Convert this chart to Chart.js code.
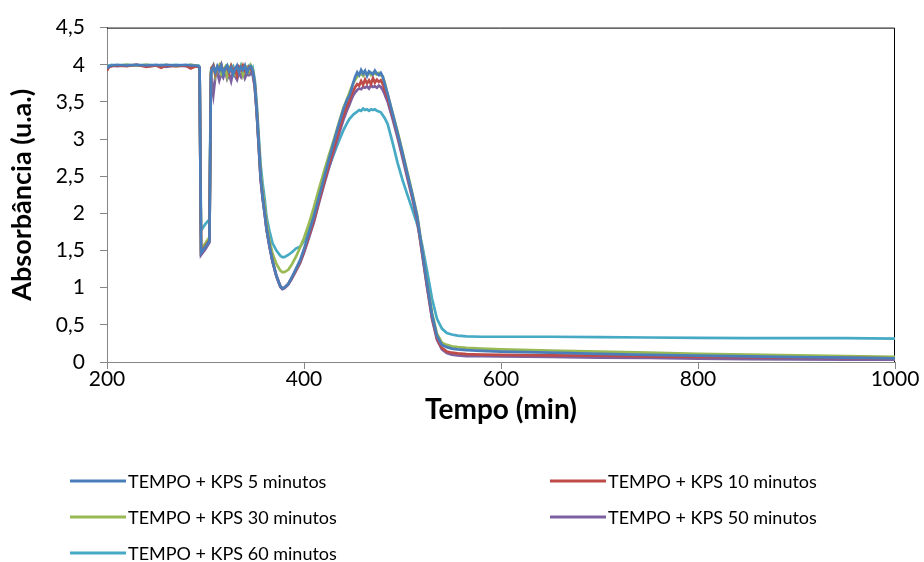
<!DOCTYPE html>
<html>
<head>
<meta charset="utf-8">
<script src="https://cdn.jsdelivr.net/npm/chart.js@4.4.1/dist/chart.umd.min.js"></script>
<style>
  html, body { margin: 0; padding: 0; background: #fff; }
  canvas { display: block; }
</style>
</head>
<body>
<canvas id="absChart" width="924" height="562"></canvas>
<script>
// x values shared by all series
const wavelengths = [
  200, 202, 205, 210, 220, 230, 240, 250, 255, 260, 270, 280, 285, 290, 293,
  294, 295.5, 300, 304, 305.5,
  306, 308, 310, 312, 314, 316, 318, 320, 322, 324, 326, 328, 330, 332, 334, 336, 338, 340, 342, 344, 346, 348,
  350, 352, 354, 356, 358, 360, 362, 365, 368, 372, 376, 378, 380, 384, 388, 392, 396, 400, 405, 410, 415, 420, 425, 430, 435, 440, 444,
  446, 448, 450, 452, 454, 456, 458, 460, 462, 464, 466, 468, 470, 472, 474, 476, 478, 480, 482,
  485, 490, 495, 500, 505, 510, 515, 520, 525, 530, 535, 540, 545, 550, 556, 565, 580, 600, 650, 700, 750, 800, 850, 900, 950, 1000
];

const seriesLabels = [
  'TEMPO + KPS 5 minutos',
  'TEMPO + KPS 10 minutos',
  'TEMPO + KPS 30 minutos',
  'TEMPO + KPS 50 minutos',
  'TEMPO + KPS 60 minutos'
];

const kps5 = [
  3.95, 3.98, 3.99, 4.0, 3.99, 4.0, 3.99, 4.0, 3.99, 4.0, 3.99, 4.0, 3.99, 3.99, 3.98,
  3.96, 1.47, 1.55, 1.63, 3.82,
  3.93, 3.97, 3.90, 3.98, 3.92, 3.99, 3.88, 3.95, 3.99, 3.91, 3.96, 3.87, 3.94, 3.99, 3.90, 3.97, 3.93, 3.99, 3.89, 3.96, 3.98, 3.92,
  3.74, 3.38, 2.93, 2.48, 2.22, 2.01, 1.79, 1.56, 1.36, 1.16, 1.02, 0.99, 1.00, 1.05, 1.15, 1.26, 1.37, 1.52, 1.74, 1.96, 2.21, 2.46, 2.71, 2.95, 3.18, 3.40, 3.54,
  3.58, 3.66, 3.76, 3.84, 3.90, 3.86, 3.93, 3.88, 3.92, 3.85, 3.91, 3.89, 3.87, 3.92, 3.88, 3.86, 3.89, 3.84, 3.74,
  3.6, 3.34, 3.08, 2.81, 2.53, 2.25, 1.95, 1.5, 1.05, 0.63, 0.35, 0.23, 0.2, 0.18, 0.17, 0.16, 0.15, 0.14, 0.125, 0.11, 0.095, 0.085, 0.075, 0.065, 0.06, 0.05
];

const kps10 = [
  3.92, 3.97, 3.98, 3.99, 3.98, 4.0, 3.97, 3.99, 3.96, 3.99, 3.98, 3.99, 3.95, 3.98, 3.97,
  3.96, 1.48, 1.56, 1.64, 3.85,
  3.95, 3.99, 3.88, 3.96, 3.93, 4.00, 3.90, 3.94, 3.97, 3.89, 3.98, 3.91, 3.95, 3.86, 3.97, 3.93, 3.99, 3.92, 3.88, 3.97, 3.95, 3.90,
  3.72, 3.37, 2.92, 2.47, 2.22, 2.01, 1.79, 1.56, 1.36, 1.16, 1.02, 0.99, 1.00, 1.05, 1.14, 1.24, 1.35, 1.49, 1.70, 1.91, 2.16, 2.40, 2.64, 2.87, 3.10, 3.32, 3.46,
  3.52, 3.59, 3.65, 3.70, 3.74, 3.72, 3.78, 3.73, 3.80, 3.75, 3.79, 3.74, 3.82, 3.76, 3.80, 3.77, 3.79, 3.74, 3.66,
  3.55, 3.31, 3.06, 2.79, 2.51, 2.23, 1.92, 1.47, 1.02, 0.6, 0.32, 0.19, 0.14, 0.125, 0.115, 0.105, 0.1, 0.095, 0.09, 0.085, 0.075, 0.07, 0.065, 0.06, 0.055, 0.05
];

const kps30 = [
  3.95, 3.98, 3.99, 3.99, 4.0, 3.99, 4.0, 3.99, 3.99, 4.0, 3.98, 3.99, 4.0, 3.99, 3.98,
  3.96, 1.52, 1.60, 1.68, 3.86,
  3.96, 3.98, 3.85, 3.94, 3.99, 3.88, 3.93, 3.97, 3.84, 3.95, 3.99, 3.90, 3.87, 3.96, 3.92, 3.98, 3.86, 3.94, 3.97, 3.91, 3.99, 3.93,
  3.76, 3.42, 2.98, 2.55, 2.30, 2.10, 1.88, 1.63, 1.46, 1.32, 1.23, 1.21, 1.21, 1.24, 1.32, 1.42, 1.54, 1.67, 1.86, 2.08, 2.32, 2.55, 2.77, 2.98, 3.20, 3.42, 3.55,
  3.62, 3.69, 3.75, 3.80, 3.84, 3.86, 3.88, 3.85, 3.89, 3.87, 3.90, 3.86, 3.89, 3.88, 3.87, 3.89, 3.86, 3.84, 3.76,
  3.6, 3.35, 3.1, 2.83, 2.55, 2.27, 1.97, 1.52, 1.07, 0.66, 0.38, 0.26, 0.23, 0.21, 0.2, 0.19, 0.18, 0.17, 0.155, 0.14, 0.125, 0.11, 0.1, 0.09, 0.08, 0.07
];

const kps50 = [
  3.94, 3.97, 3.99, 3.98, 3.99, 4.0, 3.98, 3.99, 3.99, 3.97, 3.99, 3.98, 3.99, 3.98, 3.97,
  3.96, 1.44, 1.52, 1.61, 3.78,
  3.80, 3.60, 3.84, 3.90, 3.79, 3.88, 3.83, 3.92, 3.81, 3.87, 3.78, 3.91, 3.85, 3.80, 3.89, 3.84, 3.93, 3.82, 3.88, 3.86, 3.90, 3.86,
  3.70, 3.35, 2.90, 2.45, 2.20, 2.00, 1.78, 1.55, 1.35, 1.15, 1.01, 0.98, 0.99, 1.04, 1.13, 1.23, 1.33, 1.47, 1.67, 1.88, 2.13, 2.37, 2.60, 2.82, 3.05, 3.26, 3.40,
  3.46, 3.53, 3.59, 3.63, 3.66, 3.68, 3.67, 3.70, 3.69, 3.71, 3.68, 3.72, 3.70, 3.71, 3.69, 3.72, 3.70, 3.66, 3.60,
  3.5, 3.27, 3.02, 2.75, 2.47, 2.2, 1.9, 1.45, 1.0, 0.58, 0.3, 0.17, 0.12, 0.1, 0.09, 0.08, 0.078, 0.075, 0.07, 0.06, 0.055, 0.045, 0.04, 0.035, 0.03, 0.03
];

const kps60 = [
  3.96, 3.99, 4.0, 3.99, 4.0, 3.99, 4.0, 3.99, 4.0, 3.99, 4.0, 3.99, 4.0, 3.99, 3.99,
  3.97, 1.77, 1.86, 1.92, 3.90,
  3.92, 3.99, 3.89, 3.97, 3.94, 4.00, 3.87, 3.96, 3.99, 3.90, 3.95, 3.98, 3.88, 3.96, 3.92, 3.99, 3.90, 3.97, 3.94, 3.98, 3.89, 3.95,
  3.80, 3.48, 3.05, 2.65, 2.40, 2.20, 1.95, 1.76, 1.60, 1.50, 1.43, 1.41, 1.41, 1.44, 1.48, 1.53, 1.55, 1.63, 1.80, 1.98, 2.22, 2.42, 2.61, 2.79, 2.96, 3.12, 3.22,
  3.27, 3.30, 3.33, 3.35, 3.37, 3.39, 3.38, 3.41, 3.39, 3.40, 3.38, 3.40, 3.39, 3.40, 3.38, 3.37, 3.36, 3.32, 3.28,
  3.2, 2.95, 2.68, 2.45, 2.25, 2.05, 1.85, 1.57, 1.22, 0.85, 0.58, 0.45, 0.39, 0.37, 0.355, 0.345, 0.34, 0.34, 0.34, 0.335, 0.33, 0.325, 0.32, 0.32, 0.32, 0.315
];

const seriesValues = [kps5, kps10, kps30, kps50, kps60];
const seriesColors = ['#4a7ebb', '#be4b48', '#98b954', '#7d60a0', '#46aac5'];

const FONT = 'Lato, "Open Sans", sans-serif';
const AXIS_GREY = '#868686';

// black top + right edge of the plot area
const framePlugin = {
  id: 'plotFrame',
  beforeDatasetsDraw(chart) {
    const { ctx, chartArea: a } = chart;
    ctx.save();
    ctx.strokeStyle = '#000';
    ctx.lineWidth = 1;
    ctx.beginPath();
    ctx.moveTo(a.left, a.top + 0.5);
    ctx.lineTo(a.right - 0.5, a.top + 0.5);
    ctx.lineTo(a.right - 0.5, a.bottom);
    ctx.stroke();
    ctx.restore();
  }
};

// two-column legend under the chart, like the Excel original
const legendPlugin = {
  id: 'bottomLegend',
  afterDraw(chart) {
    const ctx = chart.ctx;
    const cols = [70, 550];
    const rows = [481, 517, 553];
    chart.data.datasets.forEach((ds, i) => {
      const x = cols[i % 2];
      const y = rows[Math.floor(i / 2)];
      ctx.save();
      ctx.strokeStyle = ds.borderColor;
      ctx.lineWidth = 3;
      ctx.beginPath();
      ctx.moveTo(x, y);
      ctx.lineTo(x + 56, y);
      ctx.stroke();
      ctx.fillStyle = '#000';
      ctx.font = '18px ' + FONT;
      ctx.textBaseline = 'middle';
      ctx.fillText(ds.label, x + 58, y + 1);
      ctx.restore();
    });
  }
};

const datasets = seriesValues.map((vals, i) => ({
  label: seriesLabels[i],
  data: wavelengths.map((w, j) => ({ x: w, y: vals[j] })),
  borderColor: seriesColors[i],
  backgroundColor: seriesColors[i],
  borderWidth: 2.7,
  pointRadius: 0,
  tension: 0,
  fill: false
}));

new Chart(document.getElementById('absChart').getContext('2d'), {
  type: 'line',
  data: { datasets: datasets },
  options: {
    responsive: false,
    animation: false,
    layout: { padding: { left: 0, right: 29, top: 22, bottom: 137 } },
    plugins: {
      legend: { display: false },
      tooltip: { enabled: false }
    },
    scales: {
      x: {
        type: 'linear',
        min: 200,
        max: 1000,
        afterFit: (scale) => { scale.height = 63; },
        border: { color: AXIS_GREY, width: 1 },
        grid: { drawOnChartArea: false, drawTicks: true, tickLength: 7, color: AXIS_GREY },
        ticks: {
          stepSize: 200,
          padding: 0,
          color: '#000',
          maxRotation: 0,
          font: { family: FONT, size: 21, lineHeight: 1 },
          callback: (v) => String(v)
        },
        title: {
          display: true,
          text: 'Tempo (min)',
          color: '#000',
          padding: 0,
          font: { family: FONT, size: 28, weight: 'bold', lineHeight: 1.1 }
        }
      },
      y: {
        min: 0,
        max: 4.5,
        afterFit: (scale) => { scale.width = 107; },
        border: { color: AXIS_GREY, width: 1 },
        grid: { drawOnChartArea: false, drawTicks: true, tickLength: 7, color: AXIS_GREY },
        ticks: {
          stepSize: 0.5,
          padding: 15,
          color: '#000',
          font: { family: FONT, size: 21 },
          callback: (v) => String(v).replace('.', ',')
        },
        title: {
          display: true,
          text: 'Absorbância (u.a.)',
          color: '#000',
          padding: { top: 6, bottom: 0 },
          font: { family: FONT, size: 27, weight: 'bold', lineHeight: 1.2 }
        }
      }
    }
  },
  plugins: [framePlugin, legendPlugin]
});
</script>
</body>
</html>
